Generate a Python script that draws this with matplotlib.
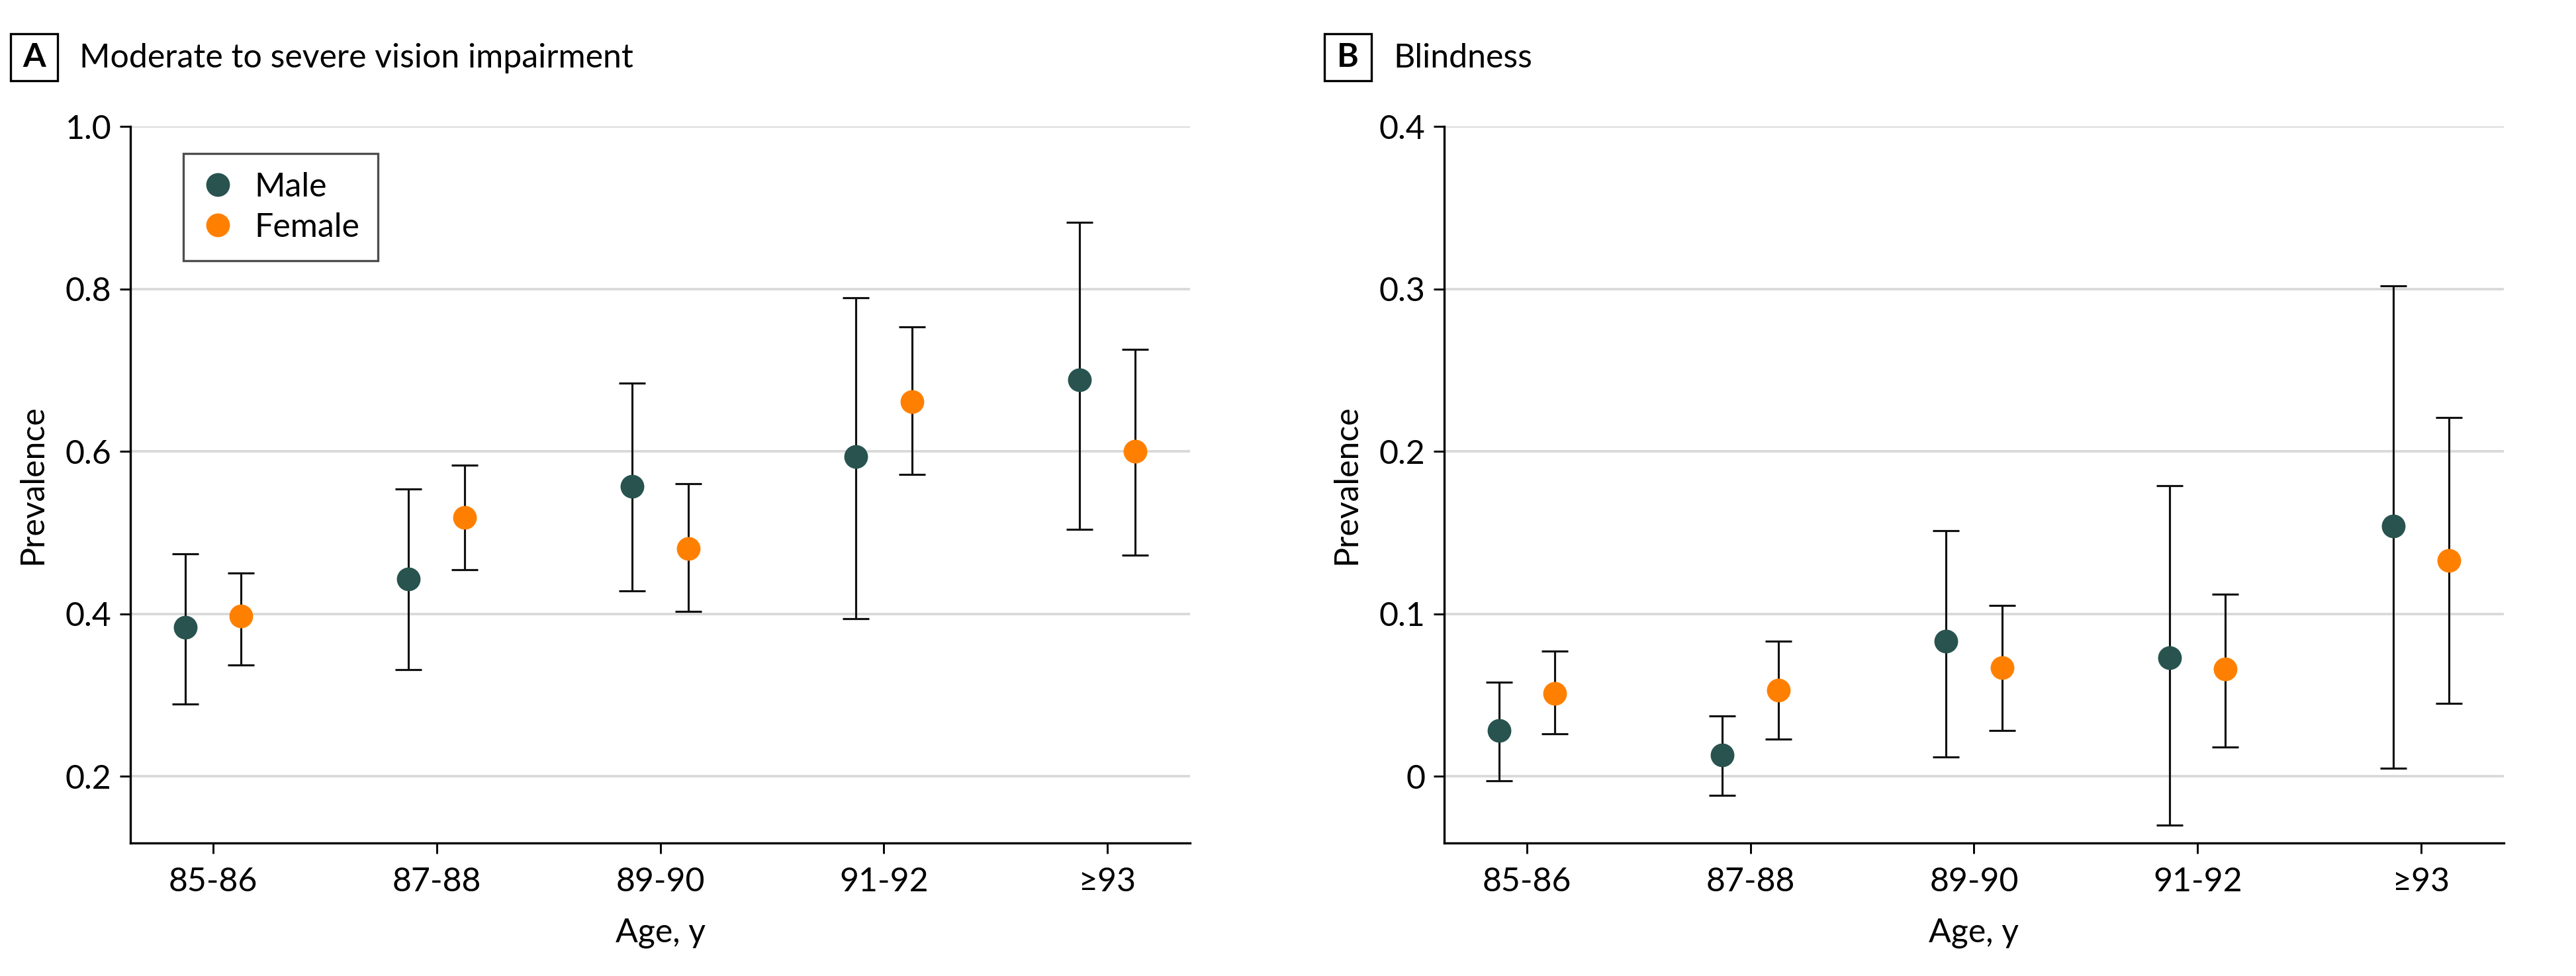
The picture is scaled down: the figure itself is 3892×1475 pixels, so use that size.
import matplotlib
matplotlib.use("Agg")
import matplotlib.pyplot as plt
from matplotlib.patches import Rectangle

plt.rcParams['font.family'] = ['Lato', 'DejaVu Sans']

# age groups
age_groups = ['85-86', '87-88', '89-90', '91-92', '≥93']

# A: moderate to severe vision impairment
msvi_male = [0.383, 0.443, 0.557, 0.594, 0.688]
msvi_male_lo = [0.289, 0.331, 0.428, 0.394, 0.504]
msvi_male_hi = [0.474, 0.554, 0.684, 0.789, 0.882]
msvi_female = [0.397, 0.519, 0.480, 0.661, 0.600]
msvi_female_lo = [0.337, 0.454, 0.403, 0.572, 0.472]
msvi_female_hi = [0.450, 0.583, 0.560, 0.753, 0.726]

# B: blindness
blind_male = [0.028, 0.013, 0.083, 0.073, 0.154]
blind_male_lo = [-0.003, -0.012, 0.012, -0.030, 0.005]
blind_male_hi = [0.058, 0.037, 0.151, 0.179, 0.302]
blind_female = [0.051, 0.053, 0.067, 0.066, 0.133]
blind_female_lo = [0.026, 0.023, 0.028, 0.018, 0.045]
blind_female_hi = [0.077, 0.083, 0.105, 0.112, 0.221]

male_color = '#28534f'
female_color = '#ff8000'
fs = 12

fig = plt.figure(figsize=(3892 / 300, 1475 / 300), dpi=300)
ax_a = fig.add_axes([0.0506, 0.1365, 0.4114, 0.7338])
ax_b = fig.add_axes([0.5606, 0.1365, 0.4114, 0.7338])

x = list(range(1, len(age_groups) + 1))
off = 0.125


def draw(ax, m, mlo, mhi, f, flo, fhi):
    xm = [i - off for i in x]
    xf = [i + off for i in x]
    for xs, v, lo, hi, c, lab in [(xm, m, mlo, mhi, male_color, 'Male'),
                                  (xf, f, flo, fhi, female_color, 'Female')]:
        err = [[a - b for a, b in zip(v, lo)], [b - a for a, b in zip(v, hi)]]
        ax.errorbar(xs, v, yerr=err, fmt='none', ecolor='#111111',
                    elinewidth=0.75, capsize=4.9, capthick=0.75, zorder=2)
        ax.plot(xs, v, 'o', ms=8.6, color=c, mec='none', label=lab, zorder=3)
    ax.set_xticks(x)
    ax.set_xticklabels(age_groups)
    ax.set_xlim(0.63, 5.37)
    ax.spines['top'].set_visible(False)
    ax.spines['right'].set_visible(False)
    for s in ['left', 'bottom']:
        ax.spines[s].set_linewidth(0.8)
    ax.yaxis.grid(True, color='#d9d9d9', lw=0.9)
    ax.set_axisbelow(True)
    ax.tick_params(axis='both', length=3.8, width=0.7, labelsize=fs)
    ax.tick_params(axis='y', pad=3)
    ax.tick_params(axis='x', pad=5)
    ax.set_ylabel('Prevalence', fontsize=fs)
    ax.set_xlabel('Age, y', fontsize=fs)
    ax.yaxis.set_label_coords(-0.078, 0.5)
    ax.xaxis.set_label_coords(0.5, -0.105)


draw(ax_a, msvi_male, msvi_male_lo, msvi_male_hi,
     msvi_female, msvi_female_lo, msvi_female_hi)
ax_a.set_ylim(0.118, 1.0)
ax_a.set_yticks([0.2, 0.4, 0.6, 0.8, 1.0])
ax_a.set_yticklabels(['0.2', '0.4', '0.6', '0.8', '1.0'])
leg = ax_a.legend(loc='upper left', bbox_to_anchor=(0.05, 0.962), borderaxespad=0,
                  fontsize=fs, frameon=True, fancybox=False, handlelength=1.0,
                  handletextpad=0.6, borderpad=0.55, labelspacing=0.3)
leg.get_frame().set_edgecolor('#222222')
leg.get_frame().set_linewidth(0.8)

draw(ax_b, blind_male, blind_male_lo, blind_male_hi,
     blind_female, blind_female_lo, blind_female_hi)
ax_b.set_ylim(-0.041, 0.4)
ax_b.set_yticks([0, 0.1, 0.2, 0.3, 0.4])
ax_b.set_yticklabels(['0', '0.1', '0.2', '0.3', '0.4'])

# panel headers
for bx, letter, title, tx in [(16, 'A', 'Moderate to severe vision impairment', 120),
                              (2001, 'B', 'Blindness', 2105)]:
    W, H = 3892, 1475
    fig.add_artist(Rectangle((bx / W, 1 - 122 / H), 71 / W, 71 / H,
                             transform=fig.transFigure, fill=False,
                             edgecolor='black', lw=0.8))
    fig.text((bx + 35.5) / W, 1 - 86.5 / H, letter, fontsize=fs, fontweight='bold',
             ha='center', va='center')
    fig.text(tx / W, 1 - 88 / H, title, fontsize=12, ha='left', va='center')

fig.savefig('out.png', dpi=300)
